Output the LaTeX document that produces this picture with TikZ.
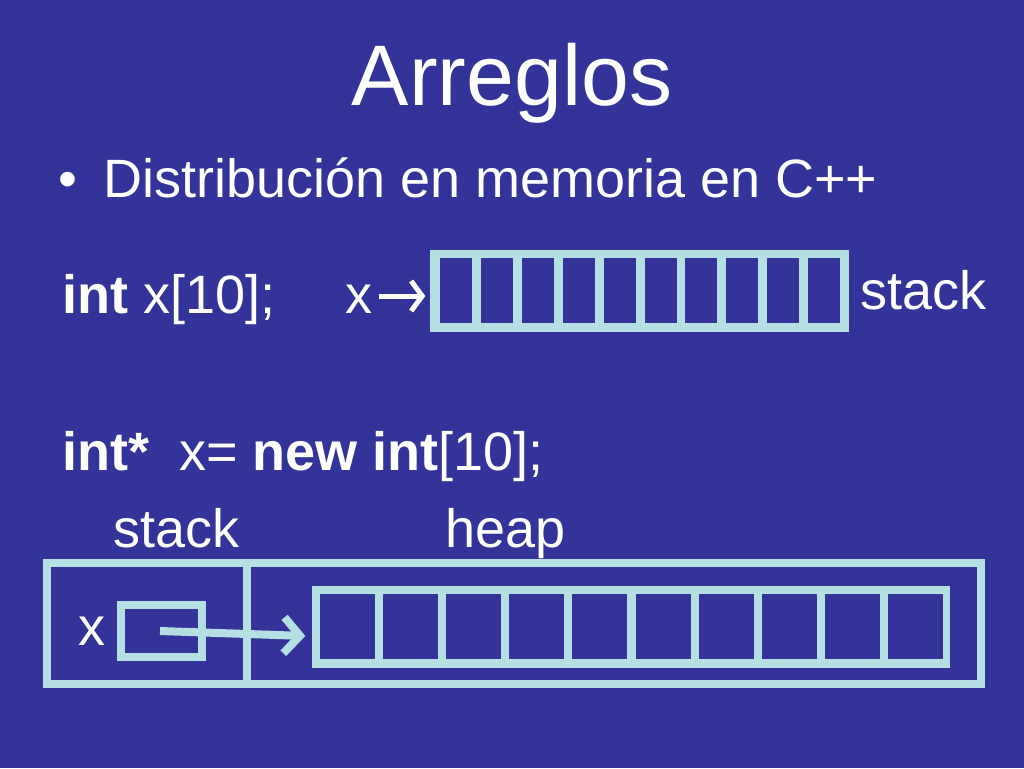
\documentclass[tikz,border=0pt]{standalone}
\usepackage{fontspec}
\setmainfont{Liberation Sans}
\usetikzlibrary{arrows.meta}
\definecolor{bg}{HTML}{333399}
\definecolor{lc}{HTML}{B4E0E4}
\begin{document}
\begin{tikzpicture}[x=1pt,y=-1pt,
  txt/.style={anchor=base west,inner sep=0,text=white,font=\fontsize{54}{60}\selectfont},
  lbox/.style={draw=lc,line width=8pt},
  cell/.style={fill=bg,draw=none}]
\fill[bg] (0,0) rectangle (1024,768);
\useasboundingbox (0,0) rectangle (1024,768);
\node[anchor=base,inner sep=0,text=white,font=\fontsize{86}{90}\selectfont] (title) at (512,105) {Arreglos};
\node[txt] (bul) at (58,197) {•};
\node[txt] (sub) at (103,197) {Distribución en memoria en C++};
\node[txt] (decl1) at (62,313) {\textbf{int} x[10];};
\node[txt] (x1) at (345,313) {x};
\node[txt] (stk1) at (860,309) {stack};
\node[txt] (decl2) at (62,470) {\textbf{int*}\ \ x= \textbf{new int}[10];};
\node[txt] (stk2) at (113,547) {stack};
\node[txt] (heap) at (445,547) {heap};
\node[txt] (x2) at (78,645) {x};
% top array
\fill[lc] (430,250) rectangle (849,332);
\foreach \i in {0,...,9}{\fill[bg] ({440+40.9*\i},258) rectangle ({472+40.9*\i},323);}
\node[inner sep=0] (arr1) at (426,296) {};
\coordinate (a1s) at (379,296);
\draw[white,line width=5pt,-{Straight Barb[length=11pt,width=30pt,line width=5pt]}] (a1s) -- (arr1);
% bottom
\draw[lbox] (47,563) rectangle (981,684);
\draw[lbox] (247,563) -- (247,684);
\fill[lc] (312,586) rectangle (950,668);
\foreach \i in {0,...,9}{\fill[bg] ({320+63.1*\i},594) rectangle ({375+63.1*\i},659);}
\draw[lbox] (121,605) rectangle (202,657);
\coordinate (ptr) at (160,631);
\node[inner sep=0] (arr2) at (306,636) {};
\draw[lc,line width=8pt,-{Straight Barb[length=16pt,width=36pt,line width=8pt]}] (ptr) -- (arr2);
\end{tikzpicture}
\end{document}
